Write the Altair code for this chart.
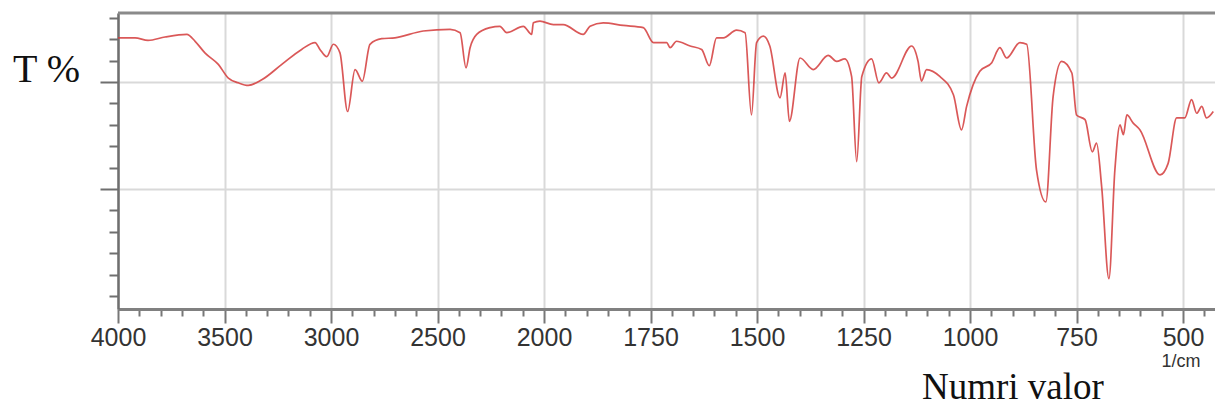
import altair as alt
import pandas as pd

# IR transmittance spectrum (wavenumber in 1/cm, transmittance in %)
wavenumber = [4000, 3920, 3859, 3779, 3677, 3638, 3592, 3529, 3482, 3435,
              3388, 3325, 3231, 3138, 3075, 3052, 3020, 2989, 2958, 2922,
              2887, 2853, 2817, 2762, 2700, 2567, 2441, 2394, 2366, 2347,
              2316, 2253, 2207, 2175, 2097, 2058, 2050, 2019, 1978, 1955,
              1908, 1892, 1861, 1814, 1767, 1743, 1712, 1704, 1689, 1657,
              1630, 1612, 1595, 1579, 1548, 1528, 1513, 1501, 1485, 1470,
              1446, 1434, 1424, 1399, 1368, 1333, 1313, 1294, 1278, 1266,
              1254, 1231, 1214, 1196, 1184, 1137, 1122, 1114, 1102, 1071,
              1039, 1020, 1008, 977, 949, 930, 914, 883, 867, 844,
              822, 805, 785, 761, 750, 730, 713, 703, 691, 674,
              660, 648, 640, 632, 617, 601, 554, 535, 515, 496,
              480, 468, 456, 445, 429]
transmittance = [75.3, 75.3, 74.7, 75.5, 76.1, 74.5, 71.8, 69.1, 65.9, 64.8,
                 64.2, 65.5, 69.1, 72.6, 74.2, 72.6, 70.9, 73.8, 71.8, 58.1,
                 67.9, 65.2, 73.8, 75.1, 75.3, 76.9, 77.3, 76.5, 68.3, 73.0,
                 76.1, 77.7, 78.0, 76.5, 78.0, 76.1, 78.8, 79.2, 78.4, 78.4,
                 76.1, 78.0, 78.8, 78.2, 77.7, 74.2, 74.2, 73.0, 74.5, 73.4,
                 72.6, 68.8, 75.3, 75.3, 77.1, 76.5, 57.3, 74.2, 75.7, 73.4,
                 61.3, 67.1, 55.8, 70.6, 67.9, 71.2, 69.8, 70.4, 66.3, 46.4,
                 66.3, 70.4, 64.8, 67.1, 65.9, 73.4, 69.8, 65.2, 67.9, 66.3,
                 62.0, 53.8, 59.3, 67.5, 69.5, 73.0, 70.6, 74.2, 73.8, 44.5,
                 37.0, 61.6, 69.8, 67.1, 57.3, 56.2, 48.7, 50.7, 40.5, 19.1,
                 44.5, 55.0, 52.7, 57.3, 55.4, 53.8, 43.3, 46.0, 56.6, 56.6,
                 60.9, 57.7, 59.3, 56.6, 58.1]

# axis ticks: labelled majors, unlabelled minors
x_major = [4000, 3500, 3000, 2500, 2000, 1750, 1500, 1250, 1000, 750, 500]
x_minor = list(range(3900, 2000, -100)) + list(range(1950, 425, -50))
y_major = [40, 65]
y_minor = list(range(15, 85, 5))

W, H = 1097, 296

df = pd.DataFrame({"wn": wavenumber, "t": transmittance})

x_major_test = "indexof([%s], datum.value) >= 0" % ",".join(str(v) for v in x_major)
y_major_test = "indexof([%s], datum.value) >= 0" % ",".join(str(v) for v in y_major)

# the spectrum axis is compressed above 2000 1/cm
x_scale = alt.Scale(domain=[4000, 2000, 425], range=[0, 426, W], nice=False, zero=False)
y_scale = alt.Scale(domain=[12, 81.1], nice=False, zero=False)

x_axis = alt.Axis(
    values=sorted(set(x_major + x_minor), reverse=True),
    title=None,
    format="d",
    labelExpr="%s ? datum.label : ''" % x_major_test,
    labelFont="Liberation Sans",
    labelFontSize=25,
    labelColor="#333333",
    labelPadding=2,
    labelFlush=False,
    labelOverlap=False,
    domainColor="#808080",
    domainWidth=3,
    tickColor="#777777",
    tickWidth=2,
    tickSize={"condition": {"test": x_major_test, "value": 14}, "value": 7},
    grid=True,
    gridColor="#d9d9d9",
    gridWidth=2,
    gridOpacity={"condition": {"test": x_major_test, "value": 1}, "value": 0},
)

y_axis = alt.Axis(
    values=y_minor,
    title=None,
    labels=False,
    domainColor="#6f6f6f",
    domainWidth=2.5,
    tickColor="#6f6f6f",
    tickWidth=2,
    tickSize={"condition": {"test": y_major_test, "value": 18}, "value": 9},
    grid=True,
    gridColor="#d9d9d9",
    gridWidth=2,
    gridOpacity={"condition": {"test": y_major_test, "value": 1}, "value": 0},
)

spectrum = alt.Chart(df).mark_line(
    color="#d43b3b", strokeWidth=1.7, opacity=0.85, interpolate="monotone"
).encode(
    x=alt.X("wn:Q", scale=x_scale, axis=x_axis),
    y=alt.Y("t:Q", scale=y_scale, axis=y_axis),
)

# frame line along the top of the plot
top_border = alt.Chart(pd.DataFrame({"a": [0]})).mark_rule(
    color="#8a8a8a", strokeWidth=3
).encode(x=alt.value(0), x2=alt.value(W), y=alt.value(0))


def label(text, x, y, size, font, align="left", color="#111111"):
    return alt.Chart(pd.DataFrame({"txt": [text]})).mark_text(
        font=font, fontSize=size, align=align, baseline="alphabetic", color=color
    ).encode(text="txt:N", x=alt.value(x), y=alt.value(y))


y_title = label("T %", -105, 69, 40, "Liberation Serif")
x_title = label("Numri valor", 804, 386, 37, "Liberation Serif")
unit = label("1/cm", 1063, 354, 18, "Liberation Sans", align="center", color="#333333")

chart = alt.layer(spectrum, top_border, y_title, x_title, unit).properties(
    width=W,
    height=H,
    autosize=alt.AutoSizeParams(type="none"),
    padding={"left": 118, "top": 13, "right": 0, "bottom": 99},
).configure_view(stroke=None).configure(background="white")

chart.save("out.html", embed_options={"renderer": "svg", "actions": False})
